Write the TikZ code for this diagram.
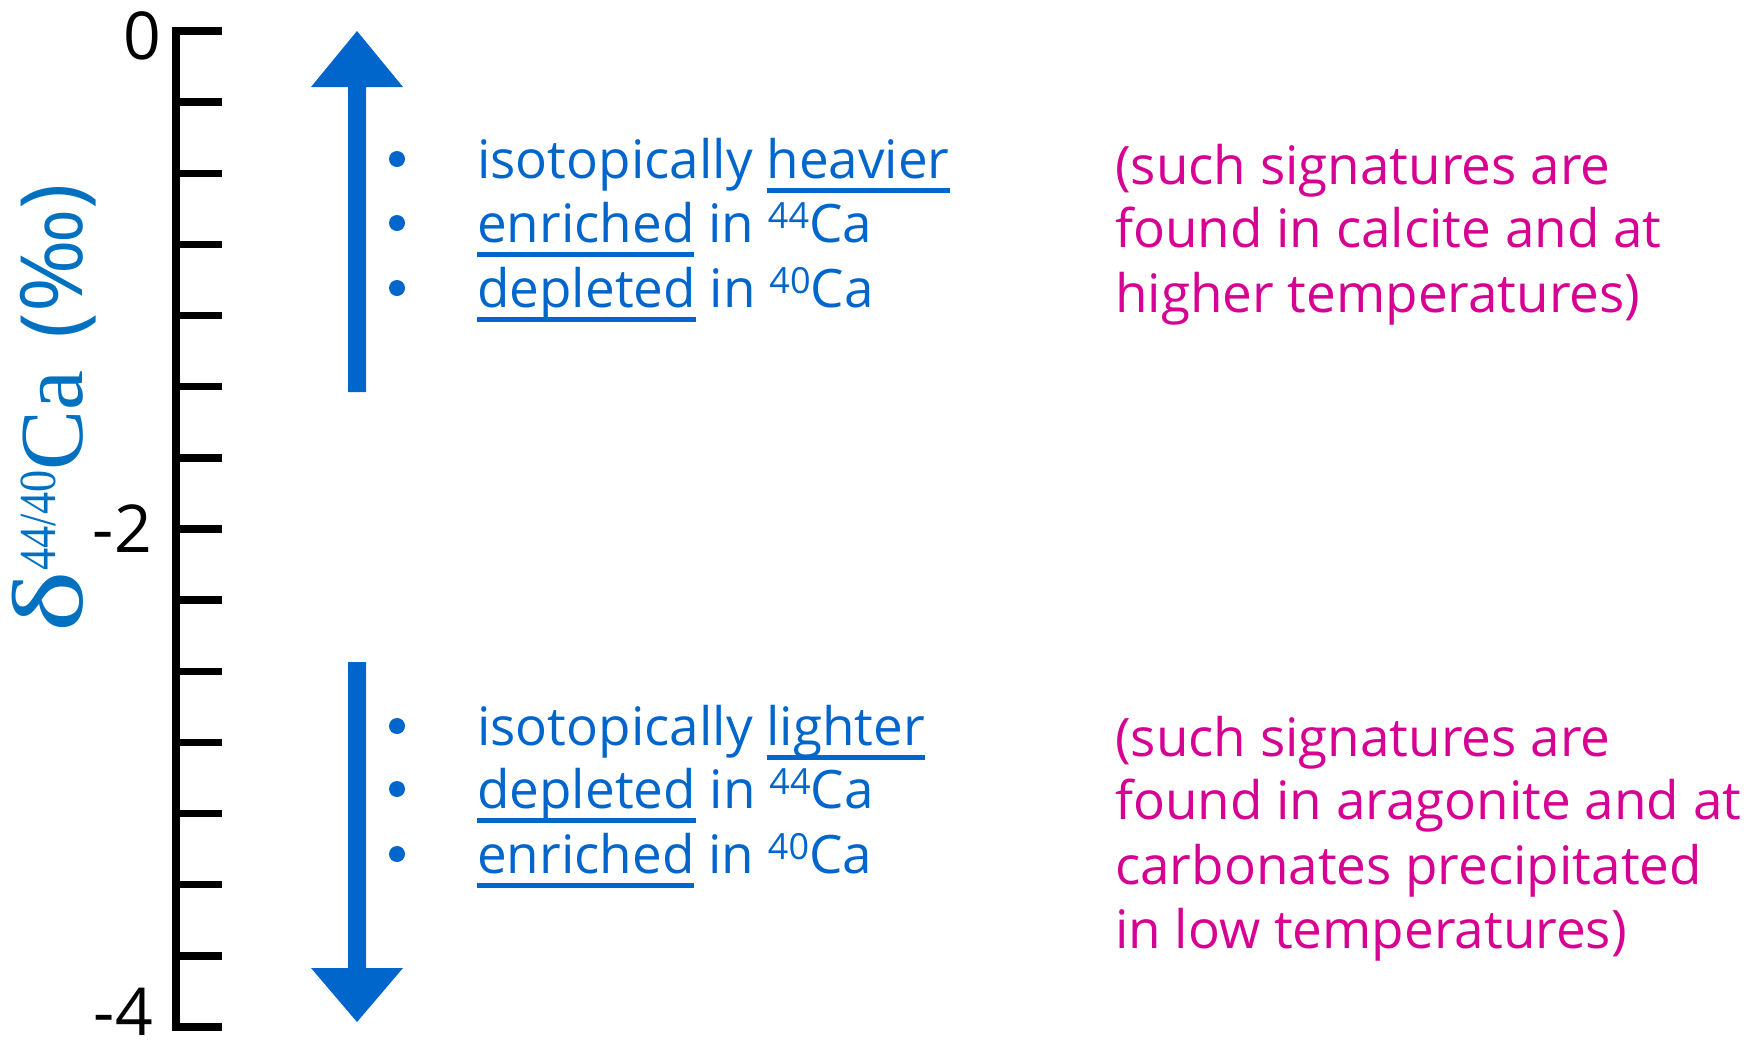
\documentclass[tikz,border=0pt]{standalone}
\usepackage{fontspec}
\usepackage{graphicx}
\setmainfont{Open Sans}
\newfontfamily\serifl{Liberation Serif}
\definecolor{arrowblue}{RGB}{0,102,204}
\definecolor{textblue}{RGB}{0,102,204}
\definecolor{labelblue}{RGB}{0,112,192}
\definecolor{pinkm}{RGB}{214,0,147}
\newsavebox\ulbox
\newcommand\myul[1]{\sbox\ulbox{#1}\rlap{\rule[-15pt]{\wd\ulbox}{5pt}}\usebox\ulbox}
\newcommand\isosup[1]{\raisebox{14pt}{\fontsize{36}{36}\selectfont #1}}
\begin{document}
\begin{tikzpicture}[x=1pt,y=-1pt,
 bluetxt/.style={anchor=base west, inner sep=0pt, text=textblue, font=\fontsize{53}{64}\selectfont},
 pinktxt/.style={anchor=base west, inner sep=0pt, text=pinkm, font=\fontsize{53}{64}\selectfont},
 bulletdot/.style={circle, fill=textblue, inner sep=0pt, minimum size=16pt},
 ticklab/.style={anchor=east, inner sep=0pt, font=\fontsize{66}{66}\selectfont},
 axisline/.style={line width=7.5pt, black},
 bigarrow/.style={fill=arrowblue}]
\useasboundingbox (0,0) rectangle (1748,1045);
% axis
\coordinate (axtop) at (176,31);
\coordinate (axbot) at (176,1027);
\draw[axisline] ([xshift=46pt]axtop) -- (axtop) -- (axbot) -- ([xshift=46pt]axbot);
\foreach \k in {1,...,13}{
  \draw[axisline] (176,{31+71.143*\k}) -- (222,{31+71.143*\k});
}
\node[ticklab] (t0) at (161,36) {0};
\node[ticklab] (t2) at (152,529) {-2};
\node[ticklab] (t4) at (153,1012) {-4};
% y label
\node[rotate=90, anchor=base, inner sep=0pt, text=labelblue] (ylabel) at (82,408)
 {{\serifl\fontsize{90}{90}\selectfont\scalebox{1.45}[1.12]{δ}\raisebox{27pt}{\fontsize{52}{52}\selectfont\scalebox{0.85}[1]{44/40}}Ca}\hspace{32pt}{\fontsize{86}{86}\selectfont(‰)}};
% arrows
\fill[bigarrow] (348,392) -- (348,87) -- (311,87) -- (357,31) -- (403,87) -- (366,87) -- (366,392) -- cycle;
\fill[bigarrow] (348,662) -- (348,968) -- (311,968) -- (357,1022) -- (403,968) -- (366,968) -- (366,662) -- cycle;
% upper bullets
\node[bulletdot] (b1) at (397,159) {};
\node[bulletdot] (b2) at (397,223) {};
\node[bulletdot] (b3) at (397,288) {};
\node[bluetxt] (l1) at (477,178) {isotopically \myul{heavier}};
\node[bluetxt] (l2) at (477,242) {\myul{enriched} in \isosup{44}Ca};
\node[bluetxt] (l3) at (477,307) {\myul{depleted} in \isosup{40}Ca};
% lower bullets
\node[bulletdot] (b4) at (397,726) {};
\node[bulletdot] (b5) at (397,789) {};
\node[bulletdot] (b6) at (397,854) {};
\node[bluetxt] (l4) at (477,745) {isotopically \myul{lighter}};
\node[bluetxt] (l5) at (477,808) {\myul{depleted} in \isosup{44}Ca};
\node[bluetxt] (l6) at (477,873) {\myul{enriched} in \isosup{40}Ca};
% pink notes
\node[pinktxt] (p1) at (1115,184) {(such signatures are};
\node[pinktxt] (p2) at (1115,247) {found in calcite and at};
\node[pinktxt] (p3) at (1115,312) {higher temperatures)};
\node[pinktxt] (q1) at (1115,756) {(such signatures are};
\node[pinktxt] (q2) at (1115,819) {found in aragonite and at};
\node[pinktxt] (q3) at (1115,884) {carbonates precipitated};
\node[pinktxt] (q4) at (1115,948) {in low temperatures)};
\end{tikzpicture}
\end{document}
